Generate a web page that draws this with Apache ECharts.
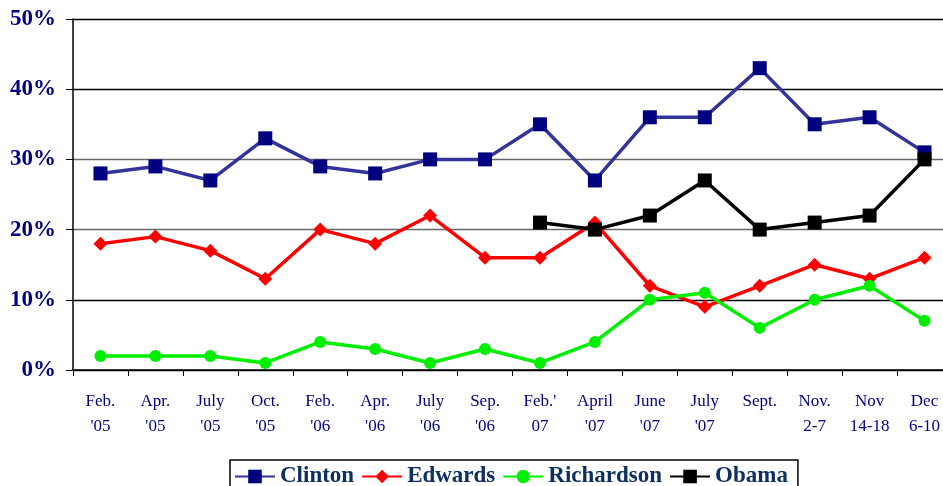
<!DOCTYPE html>
<html><head><meta charset="utf-8">
<script src="https://cdn.jsdelivr.net/npm/echarts@6/dist/echarts.min.js"></script>
<style>html,body{margin:0;padding:0;background:#fff}#c{width:943px;height:486px}</style>
</head><body><div id="c"></div>
<script>
const categories = ["Feb.\n'05","Apr.\n'05","July\n'05","Oct.\n'05","Feb.\n'06","Apr.\n'06","July\n'06","Sep.\n'06","Feb.'\n07","April\n'07","June\n'07","July\n'07","Sept.\n","Nov.\n2-7","Nov\n14-18","Dec\n6-10"];
const clinton = [28,29,27,33,29,28,30,30,35,27,36,36,43,35,36,31];
const edwards = [18,19,17,13,20,18,22,16,16,21,12,9,12,15,13,16];
const richardson = [2,2,2,1,4,3,1,3,1,4,10,11,6,10,12,7];
const obama = [null,null,null,null,null,null,null,null,21,20,22,27,20,21,22,30];
const yTicks = [0,10,20,30,40,50];

const chart = echarts.init(document.getElementById('c'));
const serif = 'Liberation Serif';
chart.setOption({
  animation:false,
  grid:{left:73,width:879,top:19,height:351,outerBoundsMode:'none',containLabel:false},
  legend:{
    left:230, top:460, width:567,
    padding:[5,10,10,4],
    borderColor:'#000', borderWidth:1.5,
    itemGap:7, itemWidth:40, itemHeight:17,
    textStyle:{fontFamily:serif,fontWeight:'bold',fontSize:23,color:'#0d3060'},
    data:['Clinton','Edwards','Richardson','Obama']
  },
  xAxis:{
    type:'category', data:categories, boundaryGap:true,
    axisLine:{lineStyle:{color:'#000',width:1.5}},
    axisTick:{show:true,length:6,lineStyle:{color:'#000'}},
    axisLabel:{fontFamily:serif,fontSize:17,color:'#000080',lineHeight:25,margin:19,interval:0}
  },
  yAxis:{
    type:'value', min:0, max:50, interval:10,
    axisLine:{show:true,lineStyle:{color:'#000',width:1.5}},
    axisTick:{show:true,length:7,lineStyle:{color:'#000'}},
    axisLabel:{fontFamily:serif,fontSize:23,fontWeight:'bold',color:'#000080',margin:17,
      formatter:v=>yTicks.includes(v)?v+'%':''},
    splitLine:{show:true,lineStyle:{color:['#000','#000','#666','#666','#000','#000'],width:1.3}}
  },
  series:[
    {name:'Clinton',type:'line',data:clinton,symbol:'rect',symbolSize:14,
      itemStyle:{color:'#000080'},lineStyle:{color:'#333399',width:3.5},z:3},
    {name:'Edwards',type:'line',data:edwards,symbol:'diamond',symbolSize:14,
      itemStyle:{color:'#ff0000'},lineStyle:{color:'#ff0000',width:3.5},z:2},
    {name:'Richardson',type:'line',data:richardson,symbol:'circle',symbolSize:12,
      itemStyle:{color:'#00ee00'},lineStyle:{color:'#00ee00',width:3.5},z:2},
    {name:'Obama',type:'line',data:obama,symbol:'rect',symbolSize:14,connectNulls:false,
      itemStyle:{color:'#000'},lineStyle:{color:'#000',width:3.5},z:4}
  ]
});
</script></body></html>
